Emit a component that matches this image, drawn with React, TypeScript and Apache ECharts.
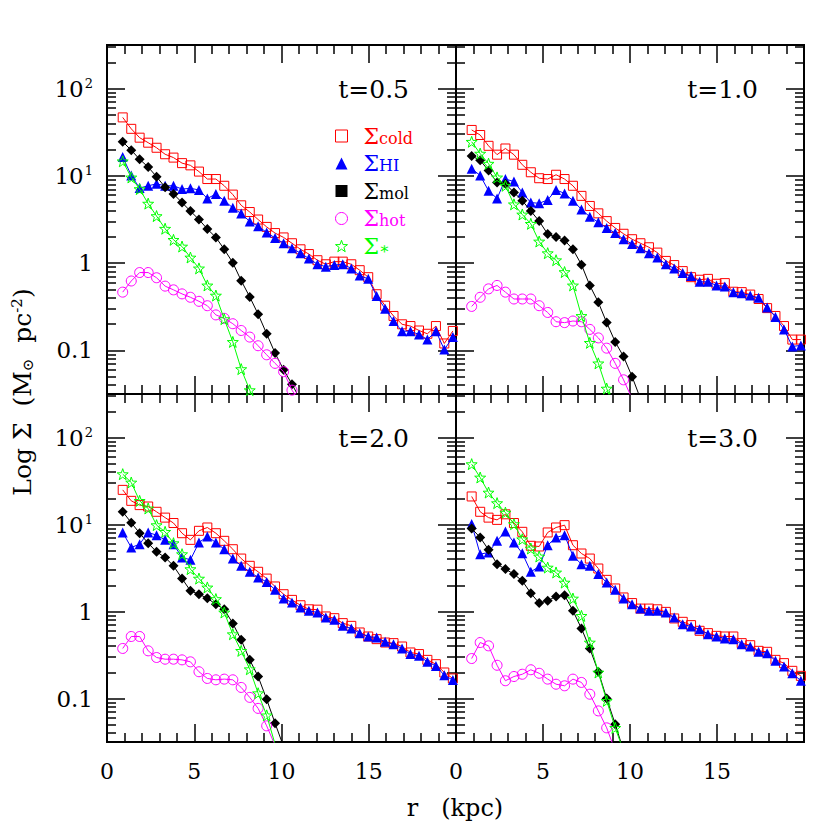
import React, { useEffect, useRef } from "react";
import * as echarts from "echarts";

// radius of each annulus (kpc)
const radius = [0.9, 1.39, 1.87, 2.36, 2.84, 3.33, 3.81, 4.3, 4.78, 5.27, 5.75, 6.24, 6.72, 7.21, 7.69, 8.18, 8.66, 9.15, 9.63, 10.12, 10.6, 11.09, 11.57, 12.06, 12.54, 13.03, 13.51, 14.0, 14.48, 14.97, 15.45, 15.94, 16.42, 16.91, 17.39, 17.88, 18.36, 18.85, 19.33, 19.82];

const panelTimes = ["t=0.5", "t=1.0", "t=2.0", "t=3.0"];

// t = 0.5
const cold05 = [46.8, 34.6, 27.4, 24.0, 21.0, 17.7, 16.2, 14.0, 13.2, 11.2, 9.2, 9.2, 7.7, 6.1, 4.6, 3.85, 3.16, 2.6, 2.21, 1.97, 1.69, 1.44, 1.27, 1.08, 0.97, 1.04, 1.04, 0.97, 0.83, 0.69, 0.44, 0.325, 0.248, 0.199, 0.19, 0.169, 0.155, 0.19, 0.12, 0.167];
const hi05 = [16.5, 10.1, 7.25, 7.7, 8.1, 7.7, 7.7, 7.06, 7.2, 6.9, 5.5, 6.2, 5.2, 4.3, 3.7, 3.0, 2.65, 2.25, 1.94, 1.69, 1.48, 1.3, 1.13, 0.97, 0.91, 0.95, 0.97, 0.87, 0.72, 0.66, 0.42, 0.3, 0.217, 0.166, 0.166, 0.152, 0.133, 0.166, 0.102, 0.142];
const mol05 = [24.6, 19.7, 15.5, 12.6, 9.8, 7.4, 6.2, 4.94, 3.95, 3.16, 2.46, 1.97, 1.44, 1.01, 0.63, 0.41, 0.26, 0.155, 0.093, 0.06, 0.041, 0.027];
const hot05 = [0.465, 0.624, 0.78, 0.78, 0.68, 0.545, 0.494, 0.444, 0.406, 0.365, 0.325, 0.255, 0.233, 0.202, 0.169, 0.142, 0.113, 0.089, 0.071, 0.057, 0.035, 0.025];
const star05 = [14.7, 9.6, 7.06, 4.81, 3.46, 2.48, 1.85, 1.55, 1.16, 0.87, 0.555, 0.425, 0.228, 0.125, 0.061, 0.035, 0.018];

// t = 1.0
const cold10 = [33.6, 29.4, 22.1, 17.5, 20.6, 17.5, 13.4, 11.0, 9.4, 9.2, 10.3, 9.2, 7.7, 5.9, 4.52, 3.72, 3.03, 2.53, 2.17, 1.88, 1.69, 1.52, 1.32, 1.06, 0.95, 0.81, 0.69, 0.645, 0.66, 0.58, 0.59, 0.47, 0.465, 0.436, 0.388, 0.305, 0.248, 0.19, 0.133, 0.133];
const hi10 = [12.1, 10.1, 6.75, 5.5, 9.2, 8.6, 6.45, 4.94, 4.85, 5.3, 6.9, 6.3, 5.2, 4.13, 3.4, 2.94, 2.53, 2.21, 1.88, 1.66, 1.48, 1.3, 1.16, 0.97, 0.87, 0.77, 0.71, 0.61, 0.61, 0.555, 0.54, 0.465, 0.452, 0.425, 0.4, 0.31, 0.242, 0.174, 0.111, 0.114];
const mol10 = [16.9, 15.1, 11.5, 8.4, 8.1, 6.45, 5.2, 3.95, 3.03, 2.15, 1.99, 1.82, 1.44, 0.96, 0.555, 0.355, 0.208, 0.125, 0.085, 0.05, 0.028];
const hot10 = [0.319, 0.406, 0.507, 0.555, 0.465, 0.388, 0.388, 0.388, 0.325, 0.272, 0.213, 0.208, 0.217, 0.213, 0.174, 0.139, 0.106, 0.071, 0.046, 0.028];
const star10 = [24.6, 18.0, 13.8, 9.6, 7.7, 4.72, 3.61, 2.82, 1.77, 1.3, 1.08, 0.79, 0.555, 0.248, 0.122, 0.071, 0.0365, 0.02];

// t = 2.0
const cold20 = [25.0, 18.7, 16.7, 16.1, 14.0, 12.0, 10.4, 7.94, 6.66, 8.46, 9.24, 7.94, 6.49, 5.2, 4.06, 3.35, 2.86, 2.39, 1.94, 1.58, 1.36, 1.18, 1.06, 1.05, 0.877, 0.838, 0.735, 0.684, 0.574, 0.516, 0.481, 0.44, 0.433, 0.396, 0.338, 0.324, 0.278, 0.248, 0.199, 0.17];
const hi20 = [8.1, 5.44, 5.94, 8.1, 7.54, 6.66, 5.94, 4.18, 3.93, 6.21, 7.28, 6.21, 5.2, 4.06, 3.35, 2.86, 2.46, 2.19, 1.78, 1.41, 1.27, 1.11, 1.02, 0.975, 0.853, 0.802, 0.684, 0.638, 0.564, 0.516, 0.502, 0.448, 0.421, 0.376, 0.324, 0.309, 0.264, 0.237, 0.185, 0.163];
const mol20 = [14.0, 10.5, 7.94, 6.1, 4.85, 4.18, 3.35, 2.39, 1.73, 1.58, 1.42, 1.21, 1.06, 0.728, 0.472, 0.278, 0.179, 0.098, 0.052, 0.028];
const hot20 = [0.376, 0.516, 0.516, 0.353, 0.296, 0.283, 0.283, 0.278, 0.264, 0.203, 0.17, 0.164, 0.167, 0.164, 0.134, 0.103, 0.077, 0.0485, 0.029];
const star20 = [37.9, 30.4, 18.7, 15.3, 9.83, 8.24, 6.1, 4.56, 3.07, 2.39, 1.89, 1.39, 0.975, 0.548, 0.353, 0.217, 0.115, 0.064, 0.03];

// t = 3.0
const cold30 = [21.0, 14.0, 12.0, 11.3, 13.1, 10.4, 8.24, 5.69, 5.59, 8.1, 9.24, 9.83, 5.78, 4.64, 4.06, 3.12, 2.31, 1.84, 1.45, 1.25, 1.08, 1.08, 1.06, 0.99, 0.832, 0.761, 0.697, 0.6, 0.564, 0.525, 0.516, 0.516, 0.433, 0.41, 0.353, 0.344, 0.278, 0.255, 0.208, 0.182];
const hi30 = [10.1, 4.56, 4.77, 6.49, 8.32, 6.21, 4.68, 2.86, 3.29, 5.78, 7.1, 7.54, 4.36, 3.5, 3.35, 2.69, 2.15, 1.78, 1.41, 1.21, 1.08, 1.02, 1.02, 0.975, 0.853, 0.715, 0.672, 0.626, 0.548, 0.516, 0.49, 0.481, 0.421, 0.396, 0.344, 0.332, 0.271, 0.233, 0.195, 0.16];
const mol30 = [9.0, 7.1, 5.12, 3.5, 3.07, 2.69, 2.25, 1.62, 1.25, 1.33, 1.49, 1.54, 1.02, 0.638, 0.376, 0.203, 0.1, 0.0507, 0.025];
const hot30 = [0.288, 0.44, 0.403, 0.241, 0.16, 0.179, 0.19, 0.214, 0.195, 0.167, 0.146, 0.14, 0.167, 0.153, 0.112, 0.072, 0.046, 0.025];
const star30 = [49.4, 34.7, 23.3, 17.6, 13.7, 10.1, 6.77, 5.3, 4.29, 3.2, 2.81, 2.15, 1.41, 0.891, 0.44, 0.199, 0.094, 0.046, 0.025];

const seriesNames = ["cold", "HI", "mol", "hot", "star"];
const legendSubs = ["cold", "HI", "mol", "hot", "∗"];
const panelData = [
  [cold05, hi05, mol05, hot05, star05],
  [cold10, hi10, mol10, hot10, star10],
  [cold20, hi20, mol20, hot20, star20],
  [cold30, hi30, mol30, hot30, star30],
];

const majorTickValues = [0.1, 1, 10, 100];
const minorTickValues = [0.04, 0.05, 0.06, 0.07, 0.08, 0.09, 0.2, 0.3, 0.4, 0.5, 0.6, 0.7, 0.8, 0.9, 2, 3, 4, 5, 6, 7, 8, 9, 20, 30, 40, 50, 60, 70, 80, 90, 200, 300];

const FONT = '"DejaVu Serif", serif';
const COLORS = ["#ff0000", "#0000ff", "#000000", "#ff00ff", "#00ff00"];
const STAR =
  "path://M0,-10L2.35,-3.24L9.51,-3.09L3.8,1.24L5.88,8.09L0,4L-5.88,8.09L-3.8,1.24L-9.51,-3.09L-2.35,-3.24Z";
const SYMBOLS = ["rect", "triangle", "diamond", "circle", STAR];
const LEGEND_ICONS = ["rect", "triangle", "rect", "circle", STAR];
const SIZES = [9, 10, 10, 10, 11];
const HOLLOW = [true, false, false, true, true];

const grids = [
  { left: 107, top: 45, width: 349, height: 349 },
  { left: 456, top: 45, width: 348, height: 349 },
  { left: 107, top: 394, width: 349, height: 348 },
  { left: 456, top: 394, width: 348, height: 348 },
];
const labelPos = [
  [409, 89],
  [758, 89],
  [409, 438],
  [758, 438],
];

const YMIN = Math.pow(10, -1.5);
const YMAX = Math.pow(10, 2.5);

export default function App() {
  const ref = useRef<HTMLDivElement>(null);
  useEffect(() => {
    if (!ref.current) return;
    const chart = echarts.init(ref.current, undefined, { renderer: "svg" });

    const lineAx = { show: true, onZero: false, lineStyle: { color: "#000", width: 2 } };
    const tickStyle = { color: "#000", width: 1.5 };

    const xAxis: any[] = [];
    const yAxis: any[] = [];
    grids.forEach((g, p) => {
      const bottomRow = p >= 2;
      ["bottom", "top"].forEach((pos) => {
        xAxis.push({
          type: "value",
          gridIndex: p,
          position: pos,
          min: 0,
          max: 20,
          interval: 5,
          axisLine: lineAx,
          axisTick: { show: true, inside: true, length: 18, lineStyle: tickStyle },
          minorTick: { show: true, splitNumber: 5, length: 9, lineStyle: tickStyle },
          axisLabel: {
            show: bottomRow && pos === "bottom",
            margin: 18,
            fontFamily: FONT,
            fontSize: 22,
            color: "#000",
            showMaxLabel: false,
            showMinLabel: true,
          },
          splitLine: { show: false },
          minorSplitLine: { show: false },
        });
      });
      const leftCol = p % 2 === 0;
      ["left", "right"].forEach((pos) => {
        [true, false].forEach((major) => {
          yAxis.push({
            type: "log",
            logBase: 10,
            gridIndex: p,
            position: pos,
            min: YMIN,
            max: YMAX,
            axisLine: lineAx,
            axisTick: {
              show: true,
              inside: true,
              length: major ? 18 : 9,
              customValues: major ? majorTickValues : minorTickValues,
              lineStyle: tickStyle,
            },
            axisLabel: {
              show: major && leftCol && pos === "left",
              customValues: majorTickValues,
              margin: 14,
              color: "#000",
              fontFamily: FONT,
              fontSize: 22,
              formatter: (v: number) => {
                const e = Math.round(Math.log10(v));
                if (e >= 1) return "{b|10}{sup|" + e + "}";
                return e === 0 ? "{b|1}" : "{b|0.1}";
              },
              rich: {
                b: { fontFamily: FONT, fontSize: 23, lineHeight: 24, color: "#000" },
                sup: { fontFamily: FONT, fontSize: 13, lineHeight: 13, verticalAlign: "top", color: "#000", padding: [0, 0, 0, 1] },
              },
            },
            splitLine: { show: false },
          });
        });
      });
    });

    const series: any[] = [];
    panelData.forEach((arrs, p) => {
      arrs.forEach((vals, k) => {
        series.push({
          type: "line",
          name: seriesNames[k],
          xAxisIndex: p * 2,
          yAxisIndex: p * 4,
          data: vals.map((v, i) => [radius[i], v]),
          symbol: SYMBOLS[k],
          symbolSize: SIZES[k],
          itemStyle: HOLLOW[k]
            ? { color: "rgba(0,0,0,0)", borderColor: COLORS[k], borderWidth: 1 }
            : { color: COLORS[k] },
          lineStyle: { color: COLORS[k], width: 1 },
          emphasis: { disabled: true },
          z: 2 + k,
        });
      });
    });

    const rich: any = {};
    seriesNames.forEach((n, i) => {
      rich["s" + i] = { color: COLORS[i], fontFamily: FONT, fontSize: 22, lineHeight: 20 };
      rich["b" + i] = { color: COLORS[i], fontFamily: FONT, fontSize: 16, lineHeight: 11, verticalAlign: "bottom" };
    });

    const graphic: any[] = panelTimes.map((t, p) => ({
      type: "text",
      x: labelPos[p][0],
      y: labelPos[p][1],
      style: { text: t, fontFamily: FONT, fontSize: 25, fill: "#000", align: "right", verticalAlign: "middle" },
    }));
    graphic.push({
      type: "text",
      x: 455,
      y: 808,
      style: { text: "r   (kpc)", fontFamily: FONT, fontSize: 24, fill: "#000", align: "center", verticalAlign: "middle" },
    });
    graphic.push({
      type: "text",
      x: 22,
      y: 392,
      rotation: Math.PI / 2,
      style: {
        text: "{a|Log Σ  (M}{s|⊙}{a|  pc}{p|-2}{a|)}",
        align: "center",
        verticalAlign: "middle",
        fill: "#000",
        rich: {
          a: { fontFamily: FONT, fontSize: 25, lineHeight: 26, fill: "#000" },
          s: { fontFamily: FONT, fontSize: 15, lineHeight: 10, verticalAlign: "bottom", fill: "#000" },
          p: { fontFamily: FONT, fontSize: 15, lineHeight: 12, verticalAlign: "top", fill: "#000" },
        },
      },
    });

    chart.setOption({
      animation: false,
      backgroundColor: "#ffffff",
      grid: grids.map((g) => ({ ...g, containLabel: false })),
      xAxis,
      yAxis,
      series,
      legend: {
        orient: "vertical",
        left: 330,
        top: 120,
        itemWidth: 12,
        itemHeight: 12,
        itemGap: 5.5,
        selectedMode: false,
        data: seriesNames.map((n, i) => ({
          name: n,
          icon: LEGEND_ICONS[i],
          itemStyle: HOLLOW[i]
            ? { color: "rgba(0,0,0,0)", borderColor: COLORS[i], borderWidth: 1 }
            : { color: COLORS[i], borderWidth: 0 },
        })),
        formatter: (name: string) => {
          const i = seriesNames.indexOf(name);
          return "{s" + i + "|\u2002Σ}{b" + i + "|" + legendSubs[i] + "}";
        },
        textStyle: { rich },
      },
      graphic,
    });
    return () => chart.dispose();
  }, []);
  return <div ref={ref} style={{ position: "absolute", left: 0, top: 0, width: 830, height: 830 }} />;
}
